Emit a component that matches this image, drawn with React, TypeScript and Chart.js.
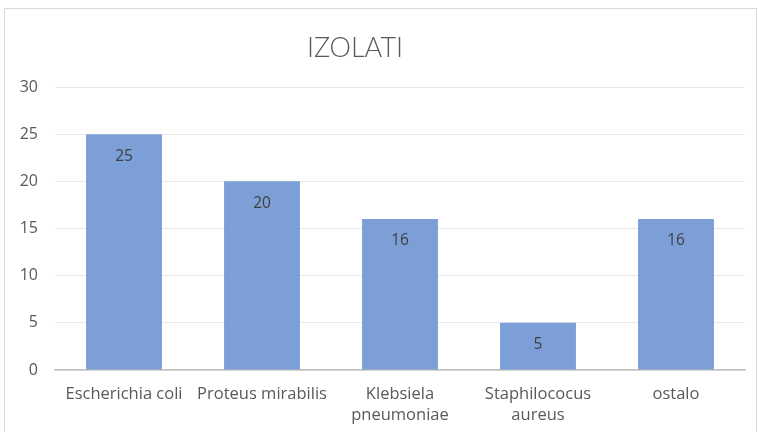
import React, { useEffect, useRef } from "react";
import { Chart, registerables } from "chart.js";

Chart.register(...registerables);

const title = "IZOLATI";
const categories: (string | string[])[] = [
  "Escherichia coli",
  "Proteus mirabilis",
  ["Klebsiela", "pneumoniae"],
  ["Staphilococus", "aureus"],
  "ostalo",
];
const values = [25, 20, 16, 5, 16];
const yTicks = [0, 5, 10, 15, 20, 25, 30];

const FONT = "Lato, 'Open Sans', sans-serif";
const TICK_FONT = "'Open Sans', sans-serif";

const framePlugin = {
  id: "frame",
  beforeDraw(chart: any) {
    const ctx = chart.ctx;
    ctx.save();
    ctx.fillStyle = "#ffffff";
    ctx.fillRect(0, 0, chart.width, chart.height);
    ctx.strokeStyle = "#d9d9d9";
    ctx.lineWidth = 1;
    ctx.strokeRect(4.5, 8.5, chart.width - 6, chart.height);
    ctx.restore();
  },
  afterDraw(chart: any) {
    const ctx = chart.ctx;
    ctx.save();
    ctx.fillStyle = "#595959";
    ctx.font = `300 27px ${FONT}`;
    ctx.textAlign = "center";
    ctx.textBaseline = "middle";
    ctx.fillText(title, 355, 48);
    ctx.restore();
  },
};

const labelPlugin = {
  id: "barLabels",
  afterDatasetsDraw(chart: any) {
    const ctx = chart.ctx;
    const meta = chart.getDatasetMeta(0);
    ctx.save();
    ctx.fillStyle = "#404040";
    ctx.font = `15.5px ${TICK_FONT}`;
    ctx.textAlign = "center";
    ctx.textBaseline = "middle";
    meta.data.forEach((bar: any, i: number) => {
      ctx.fillText(String(values[i]), bar.x, bar.y + 22);
    });
    ctx.restore();
  },
};

export default function App() {
  const ref = useRef<HTMLCanvasElement>(null);
  useEffect(() => {
    document.body.style.margin = "0";
    const chart = new Chart(ref.current!, {
      type: "bar",
      data: {
        labels: categories,
        datasets: [
          {
            data: values,
            backgroundColor: "#7b9fd6",
            categoryPercentage: 1,
            barPercentage: 0.55,
          },
        ],
      },
      options: {
        animation: false,
        responsive: false,
        layout: { padding: { top: 87, right: 13, left: 0, bottom: 0 } },
        plugins: {
          legend: { display: false },
          title: { display: false },
          tooltip: { enabled: false },
        },
        scales: {
          x: {
            grid: { display: false, drawTicks: false },
            border: { display: true, color: "#bfbfbf", width: 1.5 },
            ticks: {
              color: "#595959",
              font: { family: TICK_FONT, size: 16.5, lineHeight: 1.27 },
              padding: 14,
              maxRotation: 0,
              autoSkip: false,
            },
            afterFit(scale: any) {
              scale.height = 62;
            },
          },
          y: {
            min: 0,
            max: 30,
            afterBuildTicks(scale: any) {
              scale.ticks = yTicks.map((v) => ({ value: v }));
            },
            grid: { color: "#e9e9e9", drawTicks: false },
            border: { display: false },
            ticks: {
              color: "#595959",
              font: { family: TICK_FONT, size: 16 },
              padding: 17,
            },
            afterFit(scale: any) {
              scale.width = 55;
            },
          },
        },
      },
      plugins: [framePlugin, labelPlugin],
    });
    return () => chart.destroy();
  }, []);
  return (
    <div style={{ position: "absolute", left: 0, top: 0, width: 758, height: 432 }}>
      <canvas ref={ref} width={758} height={432} />
    </div>
  );
}
